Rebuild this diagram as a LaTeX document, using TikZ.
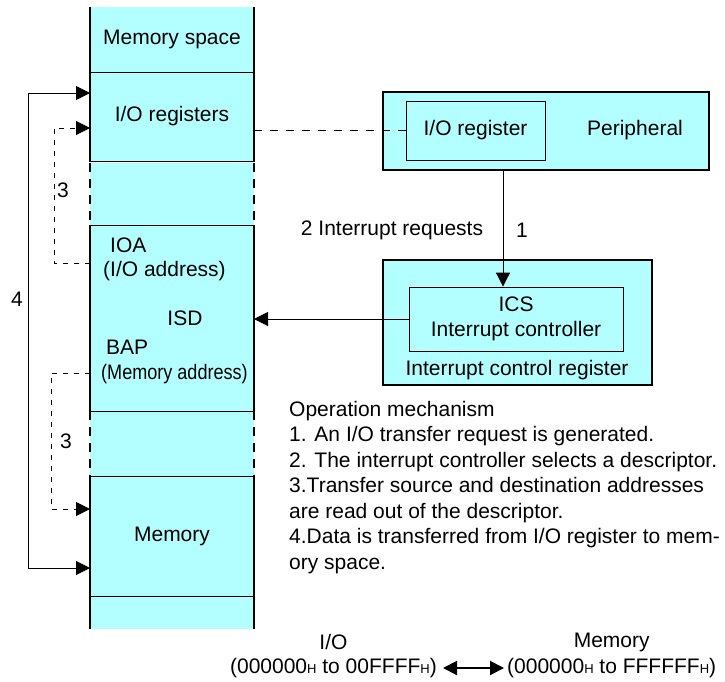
\documentclass[tikz,border=0pt]{standalone}
\usepackage{fontspec}
\setmainfont{Liberation Sans}
\usepackage{xcolor}
\definecolor{memcyan}{RGB}{179,255,255}
\usepackage{tikz}
\usetikzlibrary{positioning, arrows.meta, calc}
\tikzset{
  seg/.style     = {rectangle, fill=memcyan, minimum width=164pt, inner sep=0pt, outer sep=0pt},
  blk/.style     = {rectangle, draw=black, line width=2pt, fill=memcyan, inner sep=0pt},
  inbox/.style   = {rectangle, draw=black, line width=0.9pt, fill=memcyan, inner sep=0pt},
  divider/.style = {line width=0.9pt},
  side/.style    = {line width=2pt},
  sidedash/.style= {line width=2pt, dash pattern=on 9pt off 7pt},
  conn/.style    = {-{Triangle[length=14pt,width=14pt]}, line width=1pt},
  conn2/.style   = {{Triangle[length=14pt,width=14pt]}-{Triangle[length=14pt,width=14pt]}, line width=1pt},
  dconn/.style   = {conn, dash pattern=on 5pt off 6pt},
  dline/.style   = {line width=1.4pt, dash pattern=on 8pt off 8pt},
}
\newcommand{\hsub}{{\fontsize{13}{13}\selectfont H}}

\begin{document}
\begin{tikzpicture}[x=1pt, y=-1pt, every node/.style={font=\fontsize{21}{25.5}\selectfont, inner sep=0pt}]
  \useasboundingbox (0,0) rectangle (725,681);

  % memory column
  \node[seg, minimum height=65pt]  (msp)    at (172,39.5)  {Memory space};
  \node[seg, minimum height=91pt]  (ioregs) at (172,116)   {I/O registers};
  \node[seg, minimum height=62pt]  (gapa)   at (172,194)   {};
  \node[seg, minimum height=186pt] (isd)    at (172,318)   {};
  \node[seg, minimum height=65pt]  (gapb)   at (172,443.5) {};
  \node[seg, minimum height=120pt] (mem)    at (172,536)   {Memory};
  \node[seg, minimum height=33pt]  (bot)    at (172,612.5) {};

  \foreach \s in {msp, ioregs, gapa, isd, gapb, mem}
    \draw[divider] (\s.south west) -- (\s.south east);

  \draw[side] (msp.north west) -- (ioregs.south west);
  \draw[side] (msp.north east) -- (ioregs.south east);
  \draw[sidedash] (gapa.north west) -- (gapa.south west);
  \draw[sidedash] (gapa.north east) -- (gapa.south east);
  \draw[side] (isd.north west) -- (isd.south west);
  \draw[side] (isd.north east) -- (isd.south east);
  \draw[sidedash] (gapb.north west) -- (gapb.south west);
  \draw[sidedash] (gapb.north east) -- (gapb.south east);
  \draw[side] (mem.north west) -- (bot.south west);
  \draw[side] (mem.north east) -- (bot.south east);

  % descriptor contents
  \node[anchor=west] (ioa)     at (110,245) {IOA};
  \node[anchor=west] (ioaddr)  at (103,271) {(I/O address)};
  \node              (isdlbl)  at (185,318) {ISD};
  \node[anchor=west] (bap)     at (106,347) {BAP};
  \node[anchor=west] (memaddr) at (101,374) {\scalebox{0.86}[1]{(Memory address)}};

  % peripheral
  \node[blk, minimum width=326pt, minimum height=78pt] (periph) at (546,131) {};
  \node[inbox, minimum width=139pt, minimum height=59pt] (ioreg) at (475.5,130.5) {I/O register};
  \node (perlbl) at (635,130) {Peripheral};

  % interrupt control register
  \node[blk, minimum width=269pt, minimum height=125pt] (icr) at (517.5,322.5) {};
  \node[inbox, minimum width=214pt, minimum height=64pt, align=center] (ics) at (516,319)
    {ICS\\Interrupt controller};
  \node (icrlbl) at (517,370) {Interrupt control register};

  % edges
  \coordinate (req) at (503,170);
  \draw[conn] (req) -- (req |- ics.north);
  \node (reqlbl) at (392,230) {2 Interrupt requests};
  \node (onelbl) at (522,230) {1};

  \draw[conn] (ics.west) -- (ics.west -| isd.east);
  \draw[dline] (ioreg.west) -- (ioreg.west -| ioregs.east);

  % address read-out (3) and transfer (4)
  \coordinate (ioain)  at (90,128);
  \coordinate (ioasrc) at (90,263);
  \coordinate (bapsrc) at (90,373);
  \coordinate (bapin)  at (90,509);
  \coordinate (iotop)  at (90,93);
  \coordinate (membot) at (90,568);
  \draw[dconn] (ioasrc) -- ++(-36,0) |- (ioain);
  \draw[dconn] (bapsrc) -- ++(-39,0) |- (bapin);
  \draw[conn2] (membot) -- ++(-62,0) |- (iotop);
  \node (three1) at (63,190) {3};
  \node (three2) at (66,441) {3};
  \node (four)   at (17,299) {4};

  % operation mechanism
  \node[anchor=north west, align=left] (ops) at (289,401)
    {Operation mechanism\\
     1. An I/O transfer request is generated.\\
     2. The interrupt controller selects a descriptor.\\
     3.Transfer source and destination addresses\\
     are read out of the descriptor.\\
     4.Data is transferred from I/O register to mem-\\
     ory space.};

  % address ranges
  \node[anchor=east] (iorange)  at (437,668) {(000000\hsub{} to 00FFFF\hsub)};
  \node[anchor=west] (memrange) at (507,668) {(000000\hsub{} to FFFFFF\hsub)};
  \node (iolbl)  at ([yshift=26pt]iorange.center)  {I/O};
  \node (memlbl) at ([yshift=26pt]memrange.center) {Memory};
  \draw[conn2, line width=2pt, shorten <=6pt, shorten >=3pt] (iorange.east) -- (memrange.west);
\end{tikzpicture}
\end{document}
